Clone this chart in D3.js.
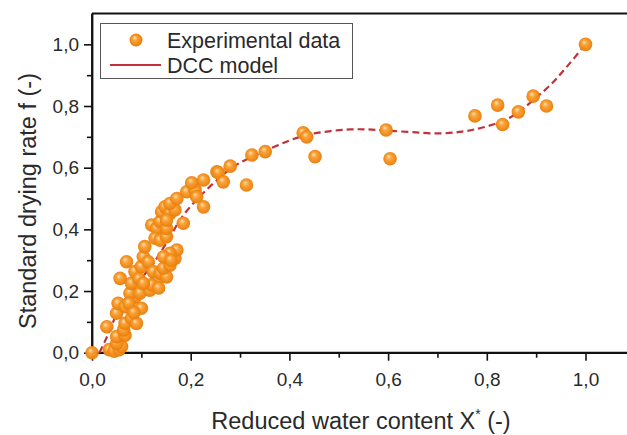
<!DOCTYPE html>
<html>
<head>
<meta charset="utf-8">
<script src="https://cdn.jsdelivr.net/npm/d3@7"></script>
<style>
  body { margin: 0; background: #fff; }
  svg { display: block; font-family: "Liberation Sans", Arial, sans-serif; }
</style>
</head>
<body>
<div id="chart"></div>
<script>
// measured points: reduced water content X* vs standard drying rate f
const expX = [
  0.0, 0.035, 0.045, 0.055, 0.06, 0.05,
  0.03, 0.05, 0.067, 0.064, 0.067, 0.08, 0.09,
  0.05, 0.053, 0.067, 0.1, 0.087, 0.077, 0.097, 0.075, 0.085,
  0.057, 0.08, 0.07, 0.087, 0.1, 0.095,
  0.104, 0.107, 0.114, 0.117, 0.131, 0.124, 0.138, 0.151, 0.145, 0.158,
  0.168, 0.172, 0.158, 0.145, 0.121, 0.104, 0.135, 0.16,
  0.121, 0.131, 0.138, 0.128, 0.138, 0.151, 0.151, 0.141, 0.148, 0.158,
  0.151, 0.168, 0.158, 0.172, 0.185, 0.192, 0.209, 0.212, 0.226, 0.226,
  0.253, 0.202, 0.256, 0.266, 0.28, 0.313, 0.324, 0.351,
  0.428, 0.435, 0.452, 0.596, 0.604,
  0.776, 0.822, 0.832, 0.864, 0.894, 0.921, 1.0
];
const expF = [
  0.0, 0.01, 0.005, 0.01, 0.02, 0.03,
  0.084, 0.052, 0.057, 0.074, 0.095, 0.112, 0.095,
  0.128, 0.16, 0.149, 0.144, 0.18, 0.193, 0.193, 0.16, 0.13,
  0.241, 0.225, 0.295, 0.263, 0.279, 0.24,
  0.311, 0.344, 0.295, 0.203, 0.236, 0.263, 0.257, 0.246, 0.274, 0.284,
  0.306, 0.333, 0.322, 0.311, 0.22, 0.225, 0.21, 0.3,
  0.414, 0.403, 0.425, 0.371, 0.365, 0.376, 0.403, 0.457, 0.473, 0.452,
  0.43, 0.463, 0.484, 0.5, 0.42, 0.522, 0.528, 0.506, 0.473, 0.56,
  0.587, 0.551, 0.584, 0.554, 0.605, 0.544, 0.641, 0.652,
  0.713, 0.70, 0.636, 0.722, 0.629,
  0.768, 0.803, 0.74, 0.781, 0.832, 0.8, 1.0
];

// DCC model curve
const modelX = [0.015, 0.03, 0.057, 0.08, 0.097, 0.12, 0.138, 0.16, 0.178, 0.2,
  0.225, 0.25, 0.286, 0.32, 0.354, 0.4, 0.435, 0.48, 0.523, 0.56, 0.6, 0.65,
  0.705, 0.75, 0.786, 0.827, 0.86, 0.894, 0.93, 0.962, 1.0];
const modelF = [0.0, 0.05, 0.149, 0.2, 0.236, 0.28, 0.323, 0.38, 0.43, 0.475,
  0.517, 0.555, 0.603, 0.632, 0.657, 0.688, 0.706, 0.718, 0.724, 0.724, 0.72, 0.715,
  0.711, 0.717, 0.728, 0.748, 0.775, 0.819, 0.87, 0.927, 1.0];

const xMajor = [0, 0.2, 0.4, 0.6, 0.8, 1.0];
const xMinor = [0.1, 0.3, 0.5, 0.7, 0.9, 1.1];
const yMajor = [0, 0.2, 0.4, 0.6, 0.8, 1.0];
const yMinor = [0.1, 0.3, 0.5, 0.7, 0.9];

const width = 627, height = 435;
const margin = { left: 92, top: 13.5, bottom: 82.3 };
const plotBottom = height - margin.bottom;

const x = d3.scaleLinear().domain([0, 1.1]).range([margin.left, margin.left + 1.1 * 493.5]);
const y = d3.scaleLinear().domain([0, 1.1]).range([plotBottom, margin.top]);
const comma = d => d3.format('.1f')(d).replace('.', ',');

const svg = d3.select('#chart').append('svg')
  .attr('width', width).attr('height', height);

const defs = svg.append('defs');
const grad = defs.append('radialGradient').attr('id', 'ball')
  .attr('cx', '50%').attr('cy', '50%').attr('r', '55%')
  .attr('fx', '38%').attr('fy', '32%');
grad.append('stop').attr('offset', '0%').attr('stop-color', '#ffe0b0');
grad.append('stop').attr('offset', '35%').attr('stop-color', '#f9a236');
grad.append('stop').attr('offset', '80%').attr('stop-color', '#ef8410');
grad.append('stop').attr('offset', '100%').attr('stop-color', '#e07a0c');

// frame
svg.append('line')
  .attr('x1', x(0)).attr('x2', width).attr('y1', y(1.1)).attr('y2', y(1.1))
  .attr('stroke', '#111').attr('stroke-width', 1.8);

// axes
const xAxis = svg.append('g').attr('transform', 'translate(0,' + plotBottom + ')')
  .call(d3.axisBottom(x).tickValues(xMajor).tickFormat(comma).tickSize(8).tickPadding(12));
svg.append('g').attr('transform', 'translate(0,' + plotBottom + ')')
  .call(d3.axisBottom(x).tickValues(xMinor).tickFormat('').tickSize(5).tickSizeOuter(0));
const yAxis = svg.append('g').attr('transform', 'translate(' + margin.left + ',0)')
  .call(d3.axisLeft(y).tickValues(yMajor).tickFormat(comma).tickSize(8).tickPadding(5));
svg.append('g').attr('transform', 'translate(' + margin.left + ',0)')
  .call(d3.axisLeft(y).tickValues(yMinor).tickFormat('').tickSize(5).tickSizeOuter(0));

svg.selectAll('.domain').attr('stroke', '#111').attr('stroke-width', 1.8);
svg.selectAll('.tick line').attr('stroke', '#111').attr('stroke-width', 1.6);
svg.selectAll('.tick text').attr('font-size', 19).attr('fill', '#2a2a2a')
  .attr('font-family', '"Liberation Sans", Arial, sans-serif');
xAxis.select('.domain').attr('d', 'M' + x(0) + ',0H' + width);
yAxis.select('.domain').attr('d', 'M0,' + y(1.1) + 'V' + plotBottom);

// model curve
const line = d3.line().x(d => x(d[0])).y(d => y(d[1])).curve(d3.curveCatmullRom);
svg.append('path')
  .datum(modelX.map((v, i) => [v, modelF[i]]))
  .attr('d', line)
  .attr('fill', 'none')
  .attr('stroke', '#c2303a')
  .attr('stroke-width', 2.2)
  .attr('stroke-dasharray', '7,4');

// experimental points
svg.append('g').selectAll('circle')
  .data(expX.map((v, i) => [v, expF[i]]))
  .enter().append('circle')
  .attr('cx', d => x(d[0]))
  .attr('cy', d => y(d[1]))
  .attr('r', 6.8)
  .attr('fill', 'url(#ball)')
  .attr('opacity', 0.97);

// legend
const legend = svg.append('g');
legend.append('rect')
  .attr('x', 100.5).attr('y', 23.5).attr('width', 252).attr('height', 55)
  .attr('fill', '#fff').attr('stroke', '#555').attr('stroke-width', 1);
legend.append('circle').attr('cx', 136).attr('cy', 40).attr('r', 6.5).attr('fill', 'url(#ball)');
legend.append('line').attr('x1', 110).attr('x2', 161).attr('y1', 65).attr('y2', 65)
  .attr('stroke', '#c2303a').attr('stroke-width', 2.2);
legend.append('text').attr('x', 167).attr('y', 48).attr('font-size', 21.5).attr('fill', '#2a2a2a')
  .text('Experimental data');
legend.append('text').attr('x', 167).attr('y', 73).attr('font-size', 21.5).attr('fill', '#2a2a2a')
  .text('DCC model');

// axis titles
const xTitle = svg.append('text')
  .attr('x', 361).attr('y', 429)
  .attr('text-anchor', 'middle').attr('font-size', 23.5).attr('fill', '#2a2a2a');
xTitle.append('tspan').text('Reduced water content X');
xTitle.append('tspan').attr('font-size', 14).attr('dy', -10).text('*');
xTitle.append('tspan').attr('dy', 10).text(' (-)');

svg.append('text')
  .attr('transform', 'translate(36,' + 201 + ') rotate(-90)')
  .attr('text-anchor', 'middle').attr('font-size', 23.5).attr('fill', '#2a2a2a')
  .text('Standard drying rate f (-)');
</script>
</body>
</html>
